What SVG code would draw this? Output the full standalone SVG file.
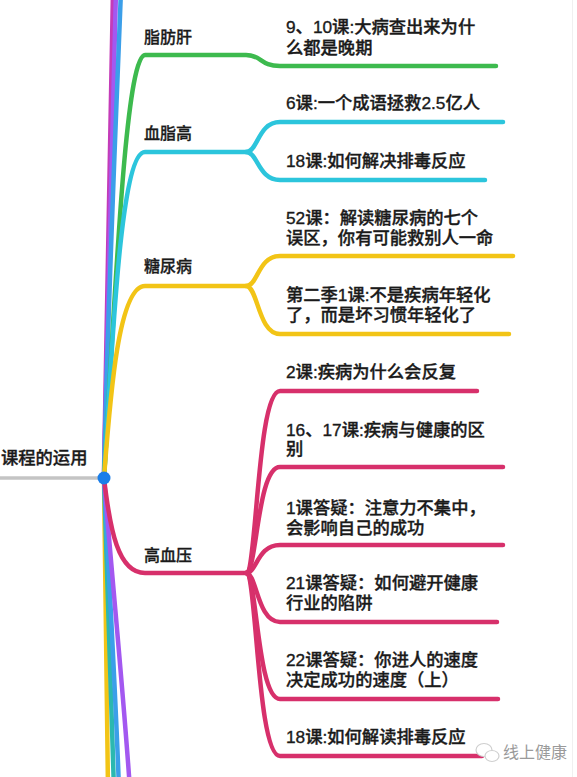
<svg xmlns="http://www.w3.org/2000/svg" width="577" height="777" viewBox="0 0 577 777">
<style>
.t{font-family:"Liberation Sans","Noto Sans CJK SC",sans-serif;font-size:17.3px;fill:#1a1a1a;stroke:#1a1a1a;stroke-width:0.35px;font-weight:500}
.b{font-family:"Liberation Sans","Noto Sans CJK SC",sans-serif;font-size:16px;fill:#1a1a1a;stroke:#1a1a1a;stroke-width:0.3px;font-weight:500}
.c path{fill:none;stroke-width:4.5;stroke-linecap:round;stroke-linejoin:round}
.g{stroke:#3dba4e}.cy{stroke:#2cc5dc}.y{stroke:#f2c416}.r{stroke:#d7306b}
.m{stroke:#c43bb8}.p{stroke:#a358f0}.bl{stroke:#3b9fe9}.te{stroke:#2bb8b0}
</style>
<rect width="577" height="777" fill="#ffffff"/>
<line x1="572.5" y1="0" x2="572.5" y2="777" stroke="#f0f0f0" stroke-width="1"/>
<g id="connectors" class="c">
  <path class="m" d="M104,478 C106,300 110,120 113,-10"/>
  <path class="p" d="M104,478 C107,300 112,120 116,-10"/>
  <path class="bl" d="M104,478 C108,300 116,120 121,-10"/>
  <path class="y" d="M104,478 C106,600 107,700 108,790"/>
  <path class="te" d="M104,478 C108,600 112,700 114,790"/>
  <path class="bl" d="M104,478 C110,600 116,700 119,790"/>
  <path class="p" d="M104,478 C114,600 124,700 130,790"/>
  <path class="g" d="M104,478 C115,300 125,55 145,55 L246,55 C262,55 260,66 280,66 L496,66"/>
  <path class="cy" d="M104,478 C112,350 120,152 145,152 L246,152"/>
  <path class="cy" d="M246,152 C258,152 258,122 280,122 L503,122"/>
  <path class="cy" d="M246,152 C258,152 258,180 280,180 L485,180"/>
  <path class="y" d="M104,478 C110,400 118,286 145,286 L246,286"/>
  <path class="y" d="M246,286 C258,286 258,256 280,256 L513,256"/>
  <path class="y" d="M246,286 C258,286 258,334 280,334 L509,334"/>
  <path class="r" d="M104,478 C110,530 118,573 145,573 L246,573"/>
  <path class="r" d="M246,573 C257,573 257,391 280,391 L477,391"/>
  <path class="r" d="M246,573 C257,573 257,467 280,467 L503,467"/>
  <path class="r" d="M246,573 C257,573 257,545 280,545 L503,545"/>
  <path class="r" d="M246,573 C257,573 257,622 280,622 L497,622"/>
  <path class="r" d="M246,573 C257,573 257,699 280,699 L498,699"/>
  <path class="r" d="M246,573 C257,573 257,756 280,756 L482,756"/>
</g>
<g id="root">
  <line x1="0" y1="478" x2="104" y2="478" stroke="#c4c4c4" stroke-width="3.5"/>
  <text class="t" x="1" y="464">课程的运用</text>
  <circle cx="104" cy="478" r="6.5" fill="#1a7ee9"/>
</g>
<g id="n-zhifanggan"><text class="b" x="144" y="43">脂肪肝</text></g>
<g id="n-xuezhigao"><text class="b" x="144" y="139">血脂高</text></g>
<g id="n-tangniaobing"><text class="b" x="144" y="272">糖尿病</text></g>
<g id="n-gaoxueya"><text class="b" x="144" y="561">高血压</text></g>
<g id="n-c1"><text class="t" x="286" y="33">9、10课:大病查出来为什<tspan x="286" dy="21">么都是晚期</tspan></text></g>
<g id="n-c2"><text class="t" x="286" y="109">6课:一个成语拯救2.5亿人</text></g>
<g id="n-c3"><text class="t" x="286" y="167">18课:如何解决排毒反应</text></g>
<g id="n-c4"><text class="t" x="286" y="224">52课：解读糖尿病的七个<tspan x="286" dy="20">误区，你有可能救别人一命</tspan></text></g>
<g id="n-c5"><text class="t" x="286" y="301">第二季1课:不是疾病年轻化<tspan x="286" dy="20">了，而是坏习惯年轻化了</tspan></text></g>
<g id="n-c6"><text class="t" x="286" y="378">2课:疾病为什么会反复</text></g>
<g id="n-c7"><text class="t" x="286" y="435.5">16、17课:疾病与健康的区<tspan x="286" dy="19.5">别</tspan></text></g>
<g id="n-c8"><text class="t" x="286" y="514">1课答疑：注意力不集中，<tspan x="286" dy="19.5">会影响自己的成功</tspan></text></g>
<g id="n-c9"><text class="t" x="286" y="589">21课答疑：如何避开健康<tspan x="286" dy="20">行业的陷阱</tspan></text></g>
<g id="n-c10"><text class="t" x="286" y="666">22课答疑：你进人的速度<tspan x="286" dy="20">决定成功的速度（上）</tspan></text></g>
<g id="n-c11"><text class="t" x="286" y="743">18课:如何解读排毒反应</text></g>
<g id="watermark">
  <ellipse cx="484" cy="750" rx="8" ry="6.5" fill="#ffffff" stroke="#cfcfcf" stroke-width="1.2"/>
  <ellipse cx="492" cy="756" rx="7" ry="5.5" fill="#ffffff" stroke="#cfcfcf" stroke-width="1.2"/>
  <text x="503" y="758" font-family="Noto Sans CJK SC,sans-serif" font-size="16" fill="#9a9a9a">线上健康</text>
</g>
</svg>
